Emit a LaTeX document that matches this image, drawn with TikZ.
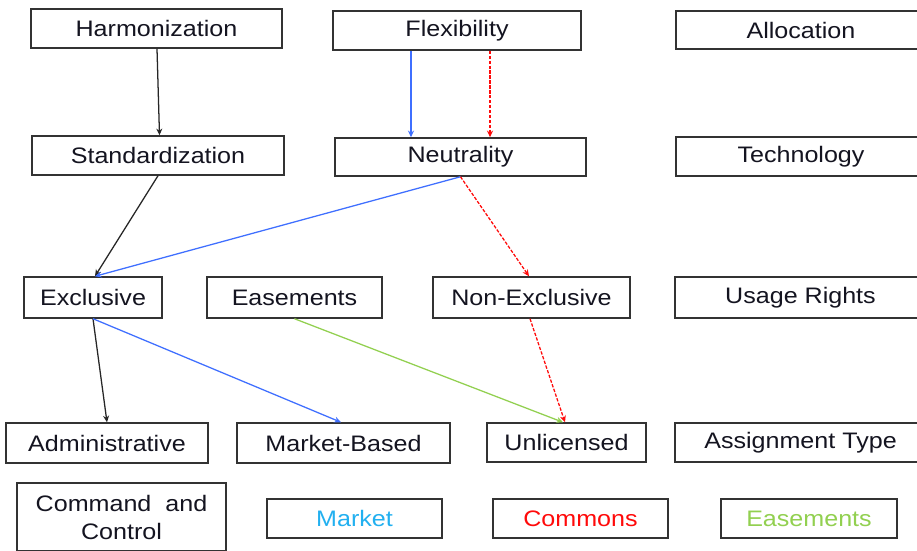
\documentclass[tikz,border=0pt]{standalone}
\usepackage{fontspec}
\setmainfont{Liberation Sans}[FakeStretch=1.12]
\usetikzlibrary{arrows.meta}
\definecolor{txt}{HTML}{141420}
\definecolor{mblue}{HTML}{3F6FFF}
\definecolor{lblue}{HTML}{22B0F0}
\definecolor{cred}{HTML}{FF0A0A}
\definecolor{egreen}{HTML}{92D050}
\tikzset{
  box/.style={draw=black!80, line width=1.1pt, fill=white, inner sep=0pt,
    text=txt, font=\fontsize{16.8}{21}\selectfont, align=center},
  link/.style={line width=0.95pt, -{Stealth[length=5pt,width=4.5pt]}},
  blk/.style={link, draw=black!85},
  mkt/.style={link, draw=mblue},
  cmn/.style={link, draw=cred, dashed, dash pattern=on 2.5pt off 1.2pt},
  esm/.style={link, draw=egreen},
}
\begin{document}
\begin{tikzpicture}[x=0.75pt,y=-0.75pt]
\useasboundingbox (0,0) rectangle (917,550);
\clip (0,0) rectangle (917,550);
\fill[white] (0,0) rectangle (917,550);

% row 1
\node[box, minimum width=251*0.75pt, minimum height=39*0.75pt] (harm) at (156.5,28.5) {Harmonization};
\node[box, minimum width=248*0.75pt, minimum height=39*0.75pt] (flex) at (457,30.5) {Flexibility};
\node[box, minimum width=250*0.75pt, minimum height=38*0.75pt] (alloc) at (801,30) {Allocation};
% row 2
\node[box, minimum width=252*0.75pt, minimum height=39*0.75pt] (stand) at (158,155.5) {Standardization};
\node[box, minimum width=251*0.75pt, minimum height=38*0.75pt] (neut) at (460.5,157) {Neutrality};
\node[box, minimum width=250*0.75pt, minimum height=39*0.75pt] (tech) at (801,156.5) {Technology};
% row 3
\node[box, minimum width=138*0.75pt, minimum height=41*0.75pt] (excl) at (93,297.5) {Exclusive};
\node[box, minimum width=175*0.75pt, minimum height=41*0.75pt] (ease) at (294.5,297.5) {Easements};
\node[box, minimum width=197*0.75pt, minimum height=41*0.75pt] (nonex) at (531.5,297.5) {Non-Exclusive};
\node[box, minimum width=251*0.75pt, minimum height=41*0.75pt] (usage) at (800.5,297.5) {Usage Rights};
% row 4
\node[box, minimum width=202*0.75pt, minimum height=40*0.75pt] (admin) at (107,443) {Administrative};
\node[box, minimum width=213*0.75pt, minimum height=40*0.75pt] (mbased) at (343.5,443) {Market-Based};
\node[box, minimum width=159*0.75pt, minimum height=39*0.75pt] (unlic) at (566.5,442.5) {Unlicensed};
\node[box, minimum width=251*0.75pt, minimum height=39*0.75pt] (assign) at (800.5,442.5) {Assignment Type};
% legend row
\node[box, minimum width=209*0.75pt, minimum height=68*0.75pt] (cac) at (121.5,517) {Command\ \ and\\Control};
\node[box, minimum width=175*0.75pt, minimum height=39*0.75pt, text=lblue] (lmkt) at (354.5,518.5) {Market};
\node[box, minimum width=175*0.75pt, minimum height=39*0.75pt, text=cred] (lcmn) at (580.5,518.5) {Commons};
\node[box, minimum width=176*0.75pt, minimum height=39*0.75pt, text=egreen] (lesm) at (809,518.5) {Easements};

% connectors
\draw[blk] ([xshift=0.5*0.75pt]harm.south) -- ([xshift=1.5*0.75pt]stand.north);
\draw[blk] (stand.south) -- ([xshift=2*0.75pt]excl.north);
\draw[mkt] ([xshift=-46*0.75pt]flex.south) -- ([xshift=-49.5*0.75pt]neut.north);
\draw[cmn] ([xshift=33*0.75pt]flex.south) -- ([xshift=29.5*0.75pt]neut.north);
\draw[mkt] (neut.south) -- ([xshift=2*0.75pt]excl.north);
\draw[cmn] (neut.south) -- ([xshift=-2.5*0.75pt]nonex.north);
\draw[blk] (excl.south) -- (admin.north);
\draw[mkt] (excl.south) -- ([xshift=-2.5*0.75pt]mbased.north);
\draw[esm] (ease.south) -- ([xshift=-3.5*0.75pt]unlic.north);
\draw[cmn] ([xshift=-1.5*0.75pt]nonex.south) -- ([xshift=-1.5*0.75pt]unlic.north);
\end{tikzpicture}
\end{document}
